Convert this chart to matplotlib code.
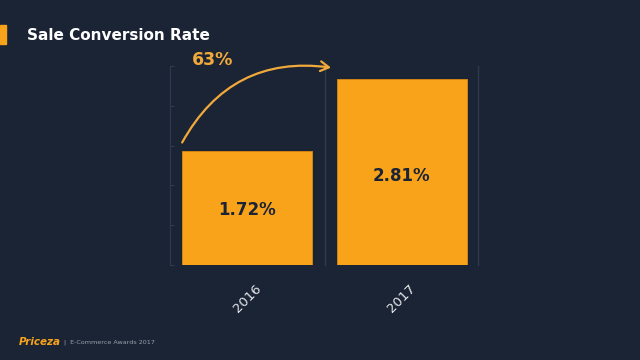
import matplotlib.pyplot as plt
from matplotlib.patches import Rectangle

years = ['2016', '2017']
rates = [1.72, 2.81]
growth_label = '63%'

bg = '#1b2434'
orange = '#f9a31b'
grid_c = '#2e394b'

fig = plt.figure(figsize=(6.4, 3.6), dpi=100, facecolor=bg)
ax = fig.add_axes([170 / 640, 95 / 360, 309 / 640, 199 / 360], facecolor=bg)

x = range(len(years))
bars = ax.bar(x, rates, width=0.84, color=orange, edgecolor='#d98a10', linewidth=0.6, zorder=3)
for b, v in zip(bars, rates):
    ax.text(b.get_x() + b.get_width() / 2, v * 0.48, f'{v:.2f}%', ha='center', va='center',
            color=bg, fontsize=12, fontweight='bold', zorder=4)

ax.set_xlim(-0.5, 1.5)
ax.set_ylim(0, 3.0)
ax.set_xticks(list(x))
ax.set_xticklabels(years, rotation=45, color='#e6e9ee', fontsize=9.5)
ax.tick_params(axis='x', length=0, pad=12)
ax.set_yticks([0, 0.6, 1.2, 1.8, 2.4, 3.0])
ax.set_yticklabels([])
ax.tick_params(axis='y', length=3, color=grid_c, direction='in')
for s in ['top', 'bottom', 'right']:
    ax.spines[s].set_visible(False)
ax.spines['left'].set_color(grid_c)
for xv in [0.5, 1.495]:
    ax.axvline(xv, color=grid_c, linewidth=1, zorder=1, clip_on=False)

# growth arrow
ax.annotate('', xy=(0.56, 2.97), xytext=(-0.43, 1.81),
            arrowprops=dict(arrowstyle='->,head_length=0.6,head_width=0.35', color='#f2a93b', lw=1.6,
                            connectionstyle='arc3,rad=-0.35'),
            annotation_clip=False, zorder=5)
fig.text(213 / 640, 1 - 60 / 360, growth_label, color='#f2a93b', fontsize=12.5, fontweight='bold',
         ha='center', va='center')

# header
fig.patches.append(Rectangle((0, 1 - 44 / 360), 6 / 640, 19 / 360, transform=fig.transFigure,
                             color=orange))
fig.text(27 / 640, 1 - 35 / 360, 'Sale Conversion Rate', color='white', fontsize=11,
         fontweight='bold', ha='left', va='center')

# footer
fig.text(19 / 640, 1 - 342 / 360, 'Priceza', color=orange, fontsize=7.5, fontweight='bold',
         style='italic', ha='left', va='center')
fig.text(64 / 640, 1 - 342 / 360, '|  E-Commerce Awards 2017', color='#9aa1ad', fontsize=4.6,
         ha='left', va='center')

fig.savefig('out.png', dpi=100, facecolor=bg)
